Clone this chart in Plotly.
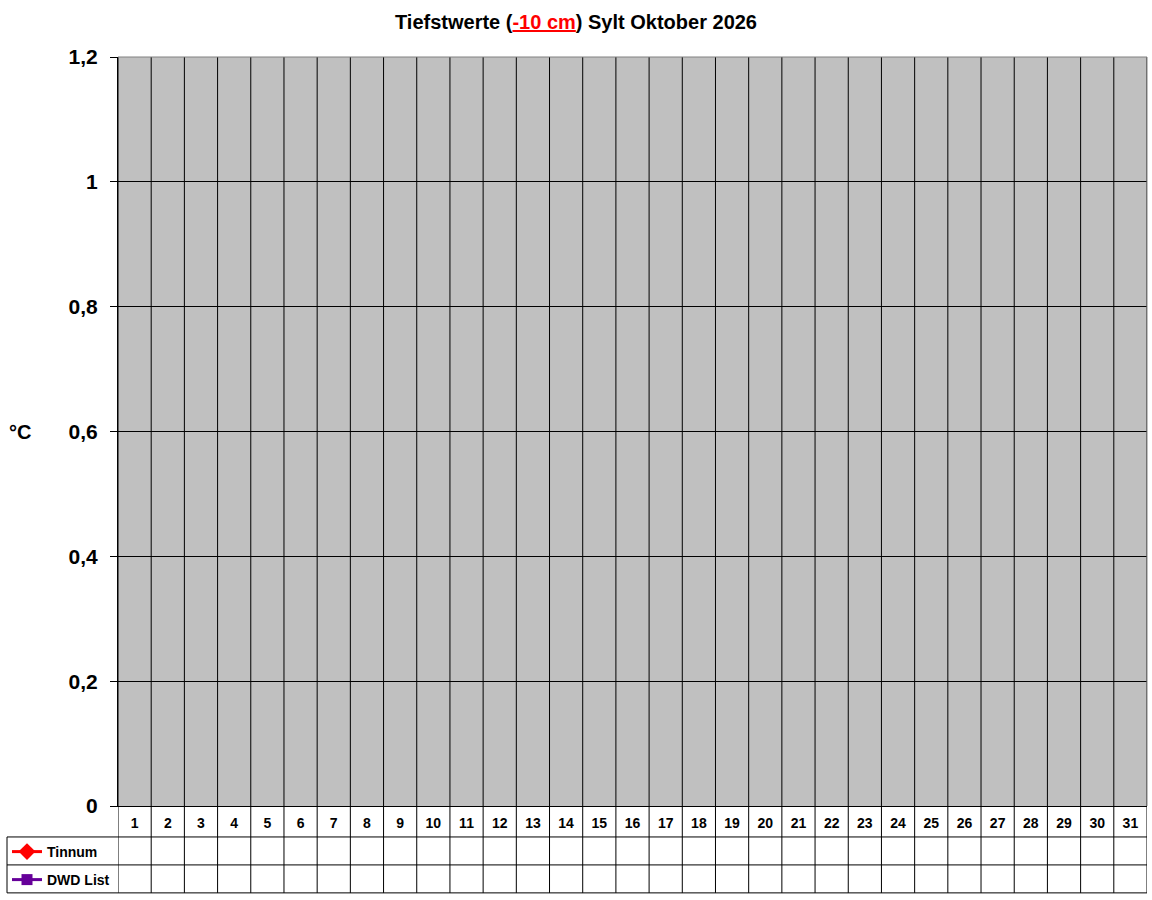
import plotly.graph_objects as go

# Tage im Oktober (Kategorien der x-Achse / Kopfzeile der Datentabelle)
tage = [1, 2, 3, 4, 5, 6, 7, 8, 9, 10, 11, 12, 13, 14, 15, 16,
        17, 18, 19, 20, 21, 22, 23, 24, 25, 26, 27, 28, 29, 30, 31]

# Tiefstwerte in -10 cm: in der Tabelle ist fuer keinen Tag ein Wert eingetragen
tinnum = [None, None, None, None, None, None, None, None, None, None, None,
          None, None, None, None, None, None, None, None, None, None, None,
          None, None, None, None, None, None, None, None, None]
dwd_list = [None, None, None, None, None, None, None, None, None, None, None,
            None, None, None, None, None, None, None, None, None, None, None,
            None, None, None, None, None, None, None, None, None]

y_ticks = [0, 0.2, 0.4, 0.6, 0.8, 1, 1.2]

schrift = "Liberation Sans, Arial, sans-serif"

W, H = 1152, 900
L, R, T, B = 118, 5, 57, 93
plot_w = W - L - R
plot_h = H - T - B

def py(pixel_y):
    # Pixelhoehe -> paper-Koordinate (fuer Tabelle unter dem Diagramm)
    return (H - B - pixel_y) / plot_h

def px(pixel_x):
    return (pixel_x - L) / plot_w

fig = go.Figure()

fig.add_trace(go.Scatter(x=tage, y=tinnum, name='Tinnum',
                         mode='lines+markers', legend='legend', showlegend=True,
                         line=dict(color='#FF0000', width=3),
                         marker=dict(symbol='diamond', size=13, color='#FF0000')))

fig.add_trace(go.Scatter(x=tage, y=dwd_list, name='DWD List',
                         mode='lines+markers', legend='legend2', showlegend=True,
                         line=dict(color='#660099', width=3),
                         marker=dict(symbol='square', size=11, color='#660099')))

# Linien der Datentabelle ---------------------------------------------------
tab_unten = py(894)
shapes = []
grenzen = [t - 0.5 for t in tage] + [tage[-1] + 0.5]
for g in grenzen:
    shapes.append(dict(type='line', xref='x', yref='paper', x0=g, x1=g,
                       y0=tab_unten, y1=1, line=dict(color='black', width=1)))
for zeile in [838, 866, 894]:
    shapes.append(dict(type='line', xref='paper', yref='paper', x0=px(7), x1=1,
                       y0=py(zeile), y1=py(zeile), line=dict(color='black', width=1)))
shapes.append(dict(type='line', xref='paper', yref='paper', x0=px(7), x1=px(7),
                   y0=py(838), y1=py(894), line=dict(color='black', width=1)))
# grauer Rahmen oben und rechts
shapes.append(dict(type='line', xref='paper', yref='paper', x0=0, x1=1, y0=1, y1=1,
                   line=dict(color='#808080', width=1), layer='above'))
shapes.append(dict(type='line', xref='paper', yref='paper', x0=1, x1=1, y0=0, y1=1,
                   line=dict(color='#808080', width=1), layer='above'))

fig.update_layout(
    autosize=False,
    width=W,
    height=H,
    margin=dict(l=L, r=R, t=T, b=B, pad=0),
    paper_bgcolor='white',
    plot_bgcolor='#C0C0C0',
    separators=',.',
    font=dict(family=schrift, color='black'),
    title=dict(text="Tiefstwerte (<span style='color:#FF0000'><u>-10 cm</u></span>) Sylt Oktober 2026",
               x=0.5, xref='container', xanchor='center',
               y=1 - 22 / H, yref='container', yanchor='middle',
               font=dict(size=20, weight='bold', color='black')),
    xaxis=dict(range=[0.5, 31.5], tickmode='array', tickvals=tage,
               ticktext=[str(t) for t in tage], ticks='', showgrid=False,
               showline=True, linecolor='black', linewidth=1, zeroline=False,
               ticklabelstandoff=4,
               tickfont=dict(size=14, weight='bold', color='black')),
    yaxis=dict(range=[0, 1.2], tickmode='array', tickvals=y_ticks,
               showgrid=True, gridcolor='black', gridwidth=1,
               showline=True, linecolor='black', linewidth=1, zeroline=False,
               ticks='outside', ticklen=7, tickcolor='black', tickwidth=1,
               ticklabelstandoff=8,
               tickfont=dict(size=21, weight='bold', color='black')),
    shapes=shapes,
    legend=dict(x=px(7), xanchor='left', y=py(852), yanchor='middle',
                bgcolor='rgba(0,0,0,0)', itemwidth=30,
                font=dict(size=14, weight='bold', color='black')),
    legend2=dict(x=px(7), xanchor='left', y=py(880), yanchor='middle',
                 bgcolor='rgba(0,0,0,0)', itemwidth=30,
                 font=dict(size=14, weight='bold', color='black')),
    annotations=[dict(text='°C', xref='paper', yref='paper', x=px(20), y=0.5,
                      xanchor='center', yanchor='middle', showarrow=False,
                      font=dict(size=20, weight='bold', color='black'))],
)

# Seitenrand des Browsers entfernen, damit das Diagramm bei (0,0) beginnt
fig.write_html("out.html", config={'displayModeBar': False},
               post_script="document.body.style.margin = '0';")
